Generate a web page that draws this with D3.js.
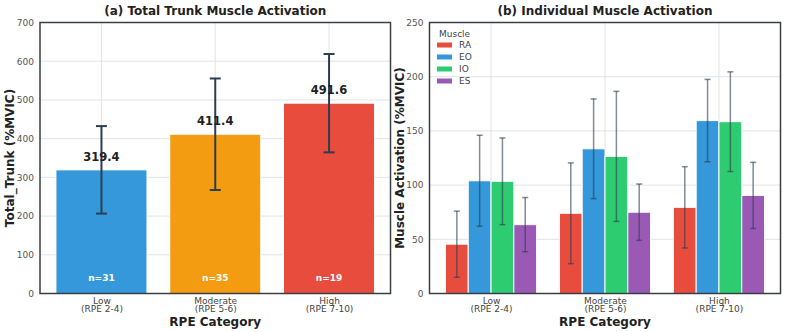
<!DOCTYPE html>
<html><head><meta charset="utf-8">
<script src="https://cdn.jsdelivr.net/npm/d3@7"></script>
<style>body{margin:0;background:#fff;} svg{display:block;font-family:"DejaVu Sans",sans-serif;}</style>
</head><body><svg id="c" width="787" height="332"></svg>
<script>
// ---- data ----
const categories = ["Low", "Moderate", "High"];
const categorySub = ["(RPE 2-4)", "(RPE 5-6)", "(RPE 7-10)"];
const totalMean = [319.4, 411.4, 491.6];
const totalSD = [113, 144, 127];
const totalN = [31, 35, 19];
const totalColors = ["#3498db", "#f39c12", "#e74c3c"];
const muscles = ["RA", "EO", "IO", "ES"];
const muscleColors = ["#e74c3c", "#3498db", "#2ecc71", "#9b59b6"];
const raMean = [45.5, 74.0, 79.5];
const raSD = [30.5, 46.5, 37.5];
const eoMean = [104.0, 133.5, 159.5];
const eoSD = [42, 46, 38];
const ioMean = [103.5, 126.5, 158.5];
const ioSD = [40, 60, 46];
const esMean = [63.5, 75.0, 90.5];
const esSD = [25, 26, 30.5];
const leftTicks = [0, 100, 200, 300, 400, 500, 600, 700];
const rightTicks = [0, 50, 100, 150, 200, 250];

const muscleMeans = [raMean, eoMean, ioMean, esMean];
const muscleSDs = [raSD, eoSD, ioSD, esSD];

const svg = d3.select("#c");
const plotTop = 22.5, plotBottom = 293.5;

function panel(x0, x1, yMax, ticks, title, ylabel) {
  const g = svg.append("g");
  const x = d3.scaleLinear().domain([-0.54, 2.54]).range([x0, x1]);
  const y = d3.scaleLinear().domain([0, yMax]).range([plotBottom, plotTop]);
  // grid
  g.selectAll(".hg").data(ticks).join("line")
    .attr("x1", x0).attr("x2", x1).attr("y1", d => y(d)).attr("y2", d => y(d))
    .attr("stroke", "#e3e3e3").attr("stroke-width", 1);
  g.selectAll(".vg").data(categories).join("line")
    .attr("x1", (d, i) => x(i)).attr("x2", (d, i) => x(i)).attr("y1", plotTop).attr("y2", plotBottom)
    .attr("stroke", "#e3e3e3").attr("stroke-width", 1);
  // y axis
  const ya = d3.axisLeft(y).tickValues(ticks).tickSize(0).tickPadding(6).tickFormat(d3.format("d"));
  const yg = g.append("g").attr("transform", `translate(${x0},0)`).call(ya);
  yg.select(".domain").remove();
  yg.selectAll("text").attr("font-size", 9).attr("fill", "#555").attr("font-family", "DejaVu Sans");
  // x axis
  const xa = d3.axisBottom(x).tickValues([0, 1, 2]).tickSize(0).tickFormat("");
  const xg = g.append("g").attr("transform", `translate(0,${plotBottom})`).call(xa);
  xg.select(".domain").remove();
  xg.selectAll(".tick").each(function (d) {
    const t = d3.select(this).append("text").attr("fill", "#444").attr("font-size", 9)
      .attr("text-anchor", "middle").attr("font-family", "DejaVu Sans");
    t.append("tspan").attr("x", 0).attr("y", 10).text(categories[d]);
    t.append("tspan").attr("x", 0).attr("y", 18.5).text(categorySub[d]);
  });
  // labels
  svg.append("text").attr("x", (x0 + x1) / 2).attr("y", 15).attr("text-anchor", "middle")
    .attr("font-size", 12).attr("font-weight", "bold").attr("fill", "#222").text(title);
  svg.append("text").attr("x", (x0 + x1) / 2).attr("y", 326).attr("text-anchor", "middle")
    .attr("font-size", 12).attr("font-weight", "bold").attr("fill", "#222").text("RPE Category");
  svg.append("text").attr("transform", `translate(${x0 - 26},${(plotTop + plotBottom) / 2}) rotate(-90)`)
    .attr("text-anchor", "middle").attr("font-size", 12).attr("font-weight", "bold").attr("fill", "#222").text(ylabel);
  return { g, x, y, x0, x1 };
}

// ---- panel a ----
const A = panel(40, 390.5, 700, leftTicks, "(a) Total Trunk Muscle Activation", "Total_Trunk (%MVIC)");
A.g.selectAll(".bar").data(totalMean).join("rect")
  .attr("x", (d, i) => A.x(i - 0.4)).attr("width", A.x(0.4) - A.x(-0.4))
  .attr("y", d => A.y(d)).attr("height", d => A.y(0) - A.y(d))
  .attr("fill", (d, i) => totalColors[i]).attr("stroke", "#fff").attr("stroke-width", 1);
totalMean.forEach((m, i) => {
  const cx = A.x(i), lo = A.y(m - totalSD[i]), hi = A.y(m + totalSD[i]);
  A.g.append("line").attr("x1", cx).attr("x2", cx).attr("y1", lo).attr("y2", hi).attr("stroke", "#2c3e50").attr("stroke-width", 2);
  [lo, hi].forEach(yy => A.g.append("line").attr("x1", cx - 5.5).attr("x2", cx + 5.5).attr("y1", yy).attr("y2", yy).attr("stroke", "#2c3e50").attr("stroke-width", 2));
  A.g.append("text").attr("x", cx).attr("y", A.y(m) - 9).attr("text-anchor", "middle")
    .attr("font-size", 11.5).attr("font-weight", "bold").attr("fill", "#222").text(m.toFixed(1));
  A.g.append("text").attr("x", cx).attr("y", 281).attr("text-anchor", "middle")
    .attr("font-size", 9).attr("font-weight", "bold").attr("fill", "#fff").text("n=" + totalN[i]);
});
A.g.append("rect").attr("x", A.x0).attr("y", plotTop).attr("width", A.x1 - A.x0).attr("height", plotBottom - plotTop)
  .attr("fill", "none").attr("stroke", "#3a3f44").attr("stroke-width", 1.5);

// ---- panel b ----
const B = panel(429.5, 780.5, 250, rightTicks, "(b) Individual Muscle Activation", "Muscle Activation (%MVIC)");
const offsets = [-0.3, -0.1, 0.1, 0.3];
muscles.forEach((mu, k) => {
  const means = muscleMeans[k], sds = muscleSDs[k];
  B.g.selectAll(".m" + k).data(means).join("rect")
    .attr("x", (d, i) => B.x(i + offsets[k] - 0.1)).attr("width", B.x(0.1) - B.x(-0.1))
    .attr("y", d => B.y(d)).attr("height", d => B.y(0) - B.y(d))
    .attr("fill", muscleColors[k]).attr("stroke", "#fff").attr("stroke-width", 1);
  means.forEach((m, i) => {
    const cx = B.x(i + offsets[k]), lo = B.y(m - sds[i]), hi = B.y(m + sds[i]);
    const c = "rgba(44,62,80,0.6)";
    B.g.append("line").attr("x1", cx).attr("x2", cx).attr("y1", lo).attr("y2", hi).attr("stroke", c).attr("stroke-width", 1.5);
    [lo, hi].forEach(yy => B.g.append("line").attr("x1", cx - 3).attr("x2", cx + 3).attr("y1", yy).attr("y2", yy).attr("stroke", c).attr("stroke-width", 1.5));
  });
});
// legend
const lg = B.g.append("g").attr("transform", "translate(437,0)");
lg.append("text").attr("x", 2).attr("y", 36.5).attr("font-size", 9).attr("fill", "#444").text("Muscle");
muscles.forEach((mu, k) => {
  const yy = 45 + k * 12;
  lg.append("rect").attr("x", 0).attr("y", yy - 2.5).attr("width", 15).attr("height", 5).attr("fill", muscleColors[k]);
  lg.append("text").attr("x", 22).attr("y", yy + 3.3).attr("font-size", 9).attr("fill", "#444").text(mu);
});
B.g.append("rect").attr("x", B.x0).attr("y", plotTop).attr("width", B.x1 - B.x0).attr("height", plotBottom - plotTop)
  .attr("fill", "none").attr("stroke", "#3a3f44").attr("stroke-width", 1.5);
</script></body></html>
